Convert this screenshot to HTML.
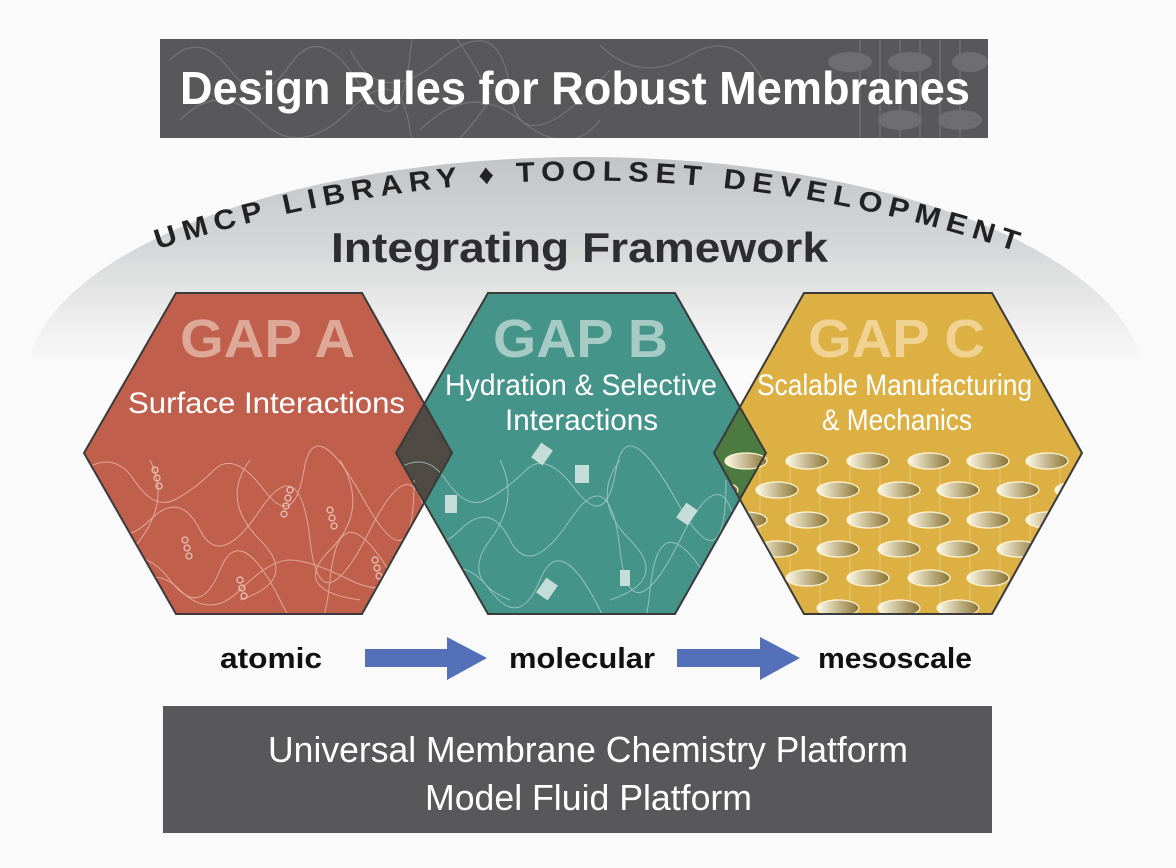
<!DOCTYPE html>
<html><head><meta charset="utf-8"><style>
html,body{margin:0;padding:0;background:#fff;}
svg{display:block;}
text{font-family:"Liberation Sans",sans-serif;}
</style></head><body>
<svg width="1176" height="868" viewBox="0 0 1176 868" xmlns="http://www.w3.org/2000/svg">
<defs>
<linearGradient id="dome" x1="0" y1="0" x2="0" y2="1">
<stop offset="0" stop-color="#c3c4c6"/><stop offset="0.2" stop-color="#d6d7d8"/><stop offset="0.36" stop-color="#eeeeee"/><stop offset="0.46" stop-color="#fafafa"/><stop offset="1" stop-color="#fafafa"/>
</linearGradient>
<linearGradient id="cyl" x1="0" y1="0" x2="1" y2="0">
<stop offset="0" stop-color="#fffbe8"/><stop offset="1" stop-color="#8a7434"/>
</linearGradient>
<clipPath id="cT"><rect x="160" y="39" width="828" height="99"/></clipPath>
<clipPath id="cA"><polygon points="84,453 176,293 362,293 452,453 362,614 176,614"/></clipPath>
<clipPath id="cB"><polygon points="396,453 488,293 675,293 766,453 675,614 488,614"/></clipPath>
<clipPath id="cC"><polygon points="714,453 804,293 992,293 1082,453 992,614 804,614"/></clipPath>
<path id="arc" d="M150,252 Q580,110 1012,250"/>
</defs>
<rect width="1176" height="868" fill="#fafafa"/>
<ellipse cx="585" cy="385" rx="560" ry="228" fill="url(#dome)"/>
<rect x="0" y="620" width="1176" height="248" fill="#fafafa"/>

<!-- title -->
<rect x="160" y="39" width="828" height="99" fill="#58585a"/>
<g clip-path="url(#cT)">
<g fill="none" stroke="#7a7a7c" stroke-width="1.3" opacity="0.8">
<path d="M170,60 q30,-30 60,10 t60,-5 t70,20 t50,-30 t80,40"/>
<path d="M180,120 q40,-40 80,0 t90,-10 t60,20 t80,-30"/>
<path d="M350,50 q30,60 90,10 t70,30 t100,-20"/>
<path d="M420,130 q50,-50 100,-10 t80,0"/>
<path d="M600,45 q40,40 90,10 t80,40"/>
<line x1="860" y1="40" x2="860" y2="138"/><line x1="880" y1="40" x2="880" y2="138"/><line x1="900" y1="40" x2="900" y2="138"/><line x1="920" y1="40" x2="920" y2="138"/><line x1="940" y1="40" x2="940" y2="138"/><line x1="960" y1="40" x2="960" y2="138"/>
</g>
<g fill="#6e6e70"><ellipse cx="850" cy="62" rx="22" ry="10"/><ellipse cx="910" cy="62" rx="22" ry="10"/><ellipse cx="970" cy="62" rx="18" ry="10"/><ellipse cx="900" cy="120" rx="22" ry="10"/><ellipse cx="960" cy="120" rx="22" ry="10"/></g>
</g>
<text x="180" y="104" font-size="46" font-weight="bold" fill="#fff" textLength="790" lengthAdjust="spacingAndGlyphs">Design Rules for Robust Membranes</text>

<!-- arc text -->
<text font-size="28" font-weight="bold" fill="#222" letter-spacing="6"><textPath href="#arc" startOffset="8" textLength="880" lengthAdjust="spacingAndGlyphs">UMCP LIBRARY ♦ TOOLSET DEVELOPMENT</textPath></text>
<text x="331" y="262" font-size="42" font-weight="bold" fill="#2e2d31" textLength="497" lengthAdjust="spacingAndGlyphs">Integrating Framework</text>

<!-- hexagons -->
<polygon points="84,453 176,293 362,293 452,453 362,614 176,614" fill="#c0604c"/>
<polygon points="714,453 804,293 992,293 1082,453 992,614 804,614" fill="#ddb043"/>
<polygon points="396,453 488,293 675,293 766,453 675,614 488,614" fill="#45948a"/>
<polygon points="396,453 424,404 452,453 424,503" fill="#4f4a44"/>
<polygon points="714,453 740,407 766,453 740,499" fill="#4c7a40"/>

<!-- textures -->
<g clip-path="url(#cA)" fill="none" stroke="#e8b9ab" stroke-width="1" opacity="0.8">
<path d="M84,470 q30,-20 50,10 t40,20 t40,-30 t50,20 t40,-20 t60,30 t50,-20"/>
<path d="M90,520 q30,30 60,0 t50,10 t60,-20 t50,30 t60,-10 t60,20"/>
<path d="M100,570 q40,-30 70,10 t50,-10 t60,30 t50,-20 t70,10"/>
<path d="M120,600 q30,-40 60,-10 t60,0 t50,-30 t60,20 t60,-10"/>
<path d="M150,460 q20,40 -10,80 t20,60"/><path d="M250,460 q-30,40 10,80 t-20,60"/><path d="M340,460 q30,50 -10,90 t30,50"/>
</g>
<g clip-path="url(#cA)" fill="none" stroke="#ecc9bd" stroke-width="1.2">
<circle cx="155" cy="470" r="3"/><circle cx="157" cy="478" r="3"/><circle cx="159" cy="486" r="3"/>
<circle cx="290" cy="490" r="3"/><circle cx="288" cy="498" r="3"/><circle cx="286" cy="506" r="3"/><circle cx="284" cy="514" r="3"/>
<circle cx="185" cy="540" r="3"/><circle cx="187" cy="548" r="3"/><circle cx="189" cy="556" r="3"/>
<circle cx="330" cy="510" r="3"/><circle cx="332" cy="518" r="3"/><circle cx="334" cy="526" r="3"/>
<circle cx="240" cy="580" r="3"/><circle cx="242" cy="588" r="3"/><circle cx="244" cy="596" r="3"/>
<circle cx="375" cy="560" r="3"/><circle cx="377" cy="568" r="3"/><circle cx="379" cy="576" r="3"/>
</g>
<g clip-path="url(#cB)" fill="none" stroke="#a9cdc7" stroke-width="1" opacity="0.8">
<path d="M396,470 q30,-20 50,10 t40,20 t40,-30 t50,20 t40,-20 t60,30 t50,-20"/>
<path d="M400,530 q30,30 60,0 t50,10 t60,-20 t50,30 t60,-10 t60,20"/>
<path d="M420,580 q40,-30 70,10 t50,-10 t60,30 t50,-20 t70,10"/>
<path d="M500,460 q20,40 -10,80 t20,60"/><path d="M620,460 q-30,40 10,80 t-20,60"/>
</g>
<g clip-path="url(#cB)" fill="#c4ddd9"><rect x="535" y="445" width="14" height="18" transform="rotate(35 542 454)"/><rect x="575" y="465" width="14" height="18"/><rect x="680" y="505" width="14" height="18" transform="rotate(35 687 514)"/><rect x="540" y="580" width="14" height="18" transform="rotate(35 547 589)"/><rect x="445" y="495" width="12" height="18"/><rect x="620" y="570" width="10" height="16"/></g>
<g clip-path="url(#cC)" stroke="#f3dc9e" stroke-width="0.8" opacity="0.7">
<line x1="760" y1="460" x2="760" y2="614"/><line x1="790" y1="460" x2="790" y2="614"/><line x1="820" y1="460" x2="820" y2="614"/><line x1="850" y1="460" x2="850" y2="614"/><line x1="880" y1="460" x2="880" y2="614"/><line x1="910" y1="460" x2="910" y2="614"/><line x1="940" y1="460" x2="940" y2="614"/><line x1="970" y1="460" x2="970" y2="614"/><line x1="1000" y1="460" x2="1000" y2="614"/><line x1="1030" y1="460" x2="1030" y2="614"/><line x1="1060" y1="460" x2="1060" y2="614"/>
</g>
<g clip-path="url(#cC)" fill="url(#cyl)" stroke="#fff6d8" stroke-width="1.2">
<ellipse cx="746" cy="461" rx="21" ry="8"/><ellipse cx="807" cy="461" rx="21" ry="8"/><ellipse cx="868" cy="461" rx="21" ry="8"/><ellipse cx="929" cy="461" rx="21" ry="8"/><ellipse cx="988" cy="461" rx="21" ry="8"/><ellipse cx="1047" cy="461" rx="21" ry="8"/>
<ellipse cx="717" cy="490" rx="21" ry="8"/><ellipse cx="777" cy="490" rx="21" ry="8"/><ellipse cx="838" cy="490" rx="21" ry="8"/><ellipse cx="899" cy="490" rx="21" ry="8"/><ellipse cx="958" cy="490" rx="21" ry="8"/><ellipse cx="1018" cy="490" rx="21" ry="8"/><ellipse cx="1076" cy="490" rx="21" ry="8"/>
<ellipse cx="746" cy="520" rx="21" ry="8"/><ellipse cx="807" cy="520" rx="21" ry="8"/><ellipse cx="868" cy="520" rx="21" ry="8"/><ellipse cx="929" cy="520" rx="21" ry="8"/><ellipse cx="988" cy="520" rx="21" ry="8"/><ellipse cx="1047" cy="520" rx="21" ry="8"/>
<ellipse cx="717" cy="549" rx="21" ry="8"/><ellipse cx="777" cy="549" rx="21" ry="8"/><ellipse cx="838" cy="549" rx="21" ry="8"/><ellipse cx="899" cy="549" rx="21" ry="8"/><ellipse cx="958" cy="549" rx="21" ry="8"/><ellipse cx="1018" cy="549" rx="21" ry="8"/>
<ellipse cx="746" cy="578" rx="21" ry="8"/><ellipse cx="807" cy="578" rx="21" ry="8"/><ellipse cx="868" cy="578" rx="21" ry="8"/><ellipse cx="929" cy="578" rx="21" ry="8"/><ellipse cx="988" cy="578" rx="21" ry="8"/>
<ellipse cx="777" cy="608" rx="21" ry="8"/><ellipse cx="838" cy="608" rx="21" ry="8"/><ellipse cx="899" cy="608" rx="21" ry="8"/><ellipse cx="958" cy="608" rx="21" ry="8"/>
</g>
<g fill="none" stroke="#3a3a3a" stroke-width="2">
<polygon points="84,453 176,293 362,293 452,453 362,614 176,614"/>
<polygon points="396,453 488,293 675,293 766,453 675,614 488,614"/>
<polygon points="714,453 804,293 992,293 1082,453 992,614 804,614"/>
</g>

<!-- hex labels -->
<text x="180" y="357" font-size="54" font-weight="bold" fill="#dea898" textLength="175" lengthAdjust="spacingAndGlyphs">GAP A</text>
<text x="493" y="357" font-size="54" font-weight="bold" fill="#a6cbc5" textLength="175" lengthAdjust="spacingAndGlyphs">GAP B</text>
<text x="808" y="357" font-size="54" font-weight="bold" fill="#f0d393" textLength="177" lengthAdjust="spacingAndGlyphs">GAP C</text>
<g fill="#fff" font-size="30">
<text x="128" y="413" textLength="277" lengthAdjust="spacingAndGlyphs">Surface Interactions</text>
<text x="445" y="395" textLength="272" lengthAdjust="spacingAndGlyphs">Hydration &amp; Selective</text>
<text x="505" y="430" textLength="153" lengthAdjust="spacingAndGlyphs">Interactions</text>
<text x="757" y="395" textLength="275" lengthAdjust="spacingAndGlyphs">Scalable Manufacturing</text>
<text x="822" y="430" textLength="150" lengthAdjust="spacingAndGlyphs">&amp; Mechanics</text>
</g>

<!-- scale row -->
<g font-size="29" font-weight="bold" fill="#111">
<text x="220" y="668" textLength="102" lengthAdjust="spacingAndGlyphs">atomic</text>
<text x="509" y="668" textLength="146" lengthAdjust="spacingAndGlyphs">molecular</text>
<text x="818" y="668" textLength="154" lengthAdjust="spacingAndGlyphs">mesoscale</text>
</g>
<polygon points="365,649 447,649 447,637 487,658 447,680 447,667 365,667" fill="#5470b8"/>
<polygon points="677,649 760,649 760,637 800,658 760,680 760,667 677,667" fill="#5470b8"/>

<!-- bottom box -->
<rect x="163" y="706" width="829" height="127" fill="#58585a"/>
<text x="268" y="762" font-size="36" fill="#fff" textLength="640" lengthAdjust="spacingAndGlyphs">Universal Membrane Chemistry Platform</text>
<text x="425" y="810" font-size="36" fill="#fff" textLength="327" lengthAdjust="spacingAndGlyphs">Model Fluid Platform</text>
</svg>
</body></html>
